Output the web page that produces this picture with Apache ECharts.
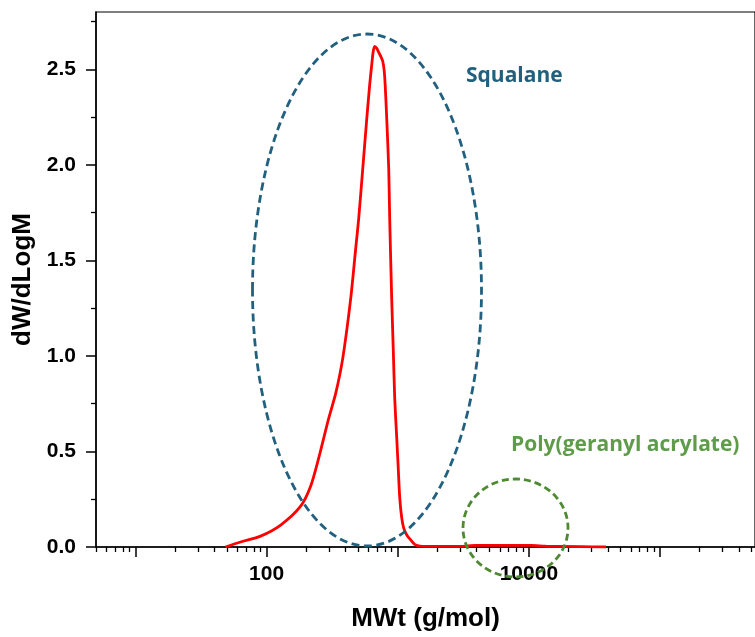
<!DOCTYPE html>
<html>
<head>
<meta charset="utf-8">
<script src="https://cdn.jsdelivr.net/npm/echarts@6/dist/echarts.min.js"></script>
<style>
html,body{margin:0;padding:0;background:#fff;}
#chart{width:755px;height:637px;}
</style>
</head>
<body>
<div id="chart"></div>
<script>
// Molecular weight (g/mol) and dW/dLogM
var mw = [48.6, 63.3, 89.9, 127.9, 181.8, 216.6, 249.5, 297.4, 336.4, 380.4, 437.7, 477.7, 503.5, 540.6, 580.1, 611.5, 633.7, 650.2, 667.4, 691.3, 716.0, 741.8, 768.4, 788.8, 802.9, 824.5, 853.6, 868.4, 899.3, 923.8, 948.3, 982.6, 1008.8, 1036, 1073, 1111, 1171.6, 1256, 1372, 1636, 3029, 3939, 6113, 10360, 13480, 24950, 38730];
var dw = [0, 0.026, 0.057, 0.115, 0.214, 0.318, 0.465, 0.673, 0.804, 0.986, 1.300, 1.561, 1.717, 1.978, 2.239, 2.422, 2.526, 2.594, 2.620, 2.610, 2.589, 2.568, 2.542, 2.490, 2.411, 2.239, 1.978, 1.717, 1.300, 1.039, 0.778, 0.569, 0.412, 0.256, 0.151, 0.099, 0.063, 0.037, 0.010, 0.003, 0.003, 0.008, 0.008, 0.008, 0.004, 0.002, 0];

var xMajorTicks = [10, 100, 1000, 10000, 100000];
var xMinorTicks = [5, 6, 7, 8, 9, 20, 30, 40, 50, 60, 70, 80, 90, 200, 300, 400, 500, 600, 700, 800, 900, 2000, 3000, 4000, 5000, 6000, 7000, 8000, 9000, 20000, 30000, 40000, 50000, 60000, 70000, 80000, 90000, 200000, 300000, 400000, 500000];
var xLabels = [100, 10000];
var yMajorTicks = [0, 0.5, 1.0, 1.5, 2.0, 2.5];
var yMinorTicks = [0.25, 0.75, 1.25, 1.75, 2.25, 2.75];

var data = mw.map(function (m, i) { return [m, dw[i]]; });

var chart = echarts.init(document.getElementById('chart'), null, {renderer: 'canvas'});
var labelFont = {color: '#000', fontFamily: 'Liberation Sans, Arial, sans-serif', fontWeight: 'bold', fontSize: 21};
var xMin = 5, xMax = 530000;

chart.setOption({
  animation: false,
  backgroundColor: '#fff',
  grid: {left: 96, right: -2, top: 12, bottom: 88, show: true, borderColor: '#000', borderWidth: 1.2, backgroundColor: 'transparent'},
  xAxis: [{
    type: 'log', logBase: 10, min: xMin, max: xMax, position: 'bottom',
    axisLine: {show: true, lineStyle: {color: '#000', width: 1.5}},
    axisTick: {show: true, inside: false, length: 10, customValues: xMajorTicks, lineStyle: {color: '#000', width: 1.5}},
    axisLabel: Object.assign({customValues: xLabels, margin: 17, formatter: function (v) { return String(Math.round(v)); }}, labelFont),
    splitLine: {show: false},
    name: 'MWt (g/mol)', nameLocation: 'middle', nameGap: 59,
    nameTextStyle: {color: '#000', fontFamily: 'Liberation Sans, Arial, sans-serif', fontWeight: 'bold', fontSize: 26}
  }, {
    type: 'log', logBase: 10, min: xMin, max: xMax, position: 'bottom',
    axisLine: {show: false},
    axisTick: {show: true, inside: false, length: 5, customValues: xMinorTicks, lineStyle: {color: '#000', width: 1.3}},
    axisLabel: {show: false},
    splitLine: {show: false}
  }],
  yAxis: [{
    type: 'value', min: 0, max: 2.8, position: 'left',
    axisLine: {show: true, lineStyle: {color: '#000', width: 1.5}},
    axisTick: {show: true, inside: false, length: 10, customValues: yMajorTicks, lineStyle: {color: '#000', width: 1.5}},
    axisLabel: Object.assign({customValues: yMajorTicks, margin: 20, formatter: function (v) { return v.toFixed(1); }}, labelFont),
    splitLine: {show: false},
    name: 'dW/dLogM', nameLocation: 'middle', nameGap: 60, nameRotate: 90,
    nameTextStyle: {color: '#000', fontFamily: 'Liberation Sans, Arial, sans-serif', fontWeight: 'bold', fontSize: 26}
  }, {
    type: 'value', min: 0, max: 2.8, position: 'left',
    axisLine: {show: false},
    axisTick: {show: true, inside: false, length: 5, customValues: yMinorTicks, lineStyle: {color: '#000', width: 1.3}},
    axisLabel: {show: false},
    splitLine: {show: false}
  }],
  series: [{
    type: 'line', xAxisIndex: 0, yAxisIndex: 0, data: data,
    showSymbol: false, smooth: 0.25,
    lineStyle: {color: '#ff0000', width: 2.8},
    z: 5
  }],
  graphic: [
    {type: 'ellipse', shape: {cx: 367, cy: 290, rx: 114.5, ry: 256}, style: {fill: null, stroke: '#21617f', lineWidth: 2.8, lineDash: [8, 4.5]}, z: 100},
    {type: 'ellipse', shape: {cx: 515.5, cy: 528, rx: 52.5, ry: 49}, style: {fill: null, stroke: '#4e8a32', lineWidth: 2.8, lineDash: [7, 4]}, z: 100},
    {type: 'text', left: 466, top: 66, style: {text: 'Squalane', fill: '#21617f', font: 'bold 21px "Open Sans", sans-serif'}, z: 100},
    {type: 'text', left: 511, top: 435, style: {text: 'Poly(geranyl acrylate)', fill: '#5f9c4a', font: 'bold 21px "Open Sans", sans-serif'}, z: 100}
  ]
});
</script>
</body>
</html>
